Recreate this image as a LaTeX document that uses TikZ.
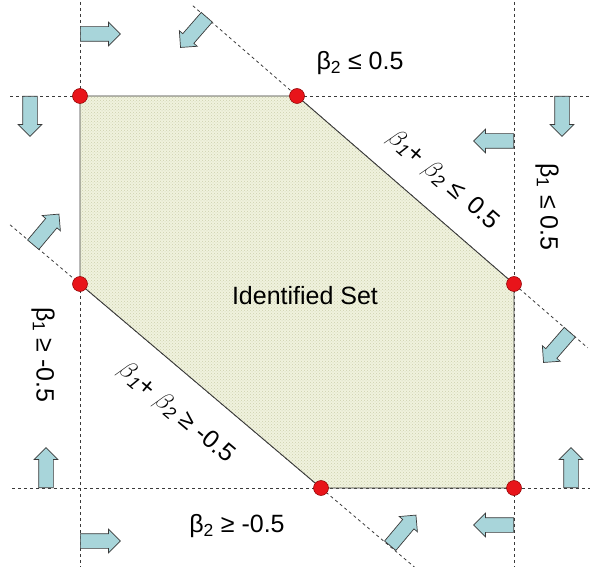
\documentclass[tikz,border=0pt]{standalone}
\usepackage{fontspec}
\setmainfont{Liberation Sans}
\usepackage{tikz}
\usetikzlibrary{shapes.arrows, patterns, calc}
\usepackage{xcolor}
\definecolor{setfill}{HTML}{F0F2DE}
\definecolor{setdots}{HTML}{CDD1AC}
\definecolor{arrowblue}{HTML}{A8D5DA}
\definecolor{edgegray}{HTML}{3A3A3A}
\definecolor{dotred}{HTML}{E8141A}

\begin{document}
\begin{tikzpicture}[x=1pt, y=-1pt,
    bound/.style={edgegray, dash pattern=on 3pt off 3pt, line width=0.8pt},
    setedge/.style={edgegray, line width=0.9pt},
    vertex/.style={circle, fill=dotred, draw=red!55!black, line width=0.5pt, minimum size=15pt, inner sep=0pt},
    pusharrow/.style={single arrow, draw=edgegray, fill=arrowblue, line width=0.7pt, minimum height=40pt, inner xsep=0pt, inner ysep=7pt, single arrow head extend=4.5pt, anchor=tail},
    lbl/.style={font=\fontsize{25}{30}\selectfont, inner sep=0pt}]
                \useasboundingbox (0,0) rectangle (590,567);
                % 1. Corners of the set
                \coordinate (p1) at (80,96);
                \coordinate (p2) at (297,96);
                \coordinate (p3) at (514,284);
                \coordinate (p4) at (514,488);
                \coordinate (p5) at (321,488);
                \coordinate (p6) at (80,284);

                % 2. Bounding lines
                \draw[bound] (80,2) -- (80,567);
                \draw[bound] (514,2) -- (514,567);
                \draw[bound] (10,96) -- (590,96);
                \draw[bound] (12,488) -- (590,488);
                \draw[bound] ($(p2)!-0.48!(p3)$) -- ($(p2)!1.34!(p3)$);
                \draw[bound] ($(p6)!-0.29!(p5)$) -- ($(p6)!1.4!(p5)$);

                % 3. Identified set
                \fill[setfill] (p1) -- (p2) -- (p3) -- (p4) -- (p5) -- (p6) -- cycle;
                \fill[pattern=crosshatch dots, pattern color=setdots] (p1) -- (p2) -- (p3) -- (p4) -- (p5) -- (p6) -- cycle;
                \draw[setedge] (p1) -- (p2) -- (p3) -- (p4) -- (p5) -- (p6) -- cycle;
                \foreach \i in {1,...,6}
                    \node[vertex] (v\i) at (p\i) {};
                \node[lbl] (idset) at (305,296) {Identified Set};

                % 4. Arrows pointing into the feasible side
                \node[pusharrow, rotate=0] (a1) at (80,34) {};
                \node[pusharrow, rotate=-90] (a2) at (30,96) {};
                \node[pusharrow, rotate=-131] (a3) at (207,17) {};
                \node[pusharrow, rotate=-90] (a4) at (562,96) {};
                \node[pusharrow, rotate=180] (a5) at (514,141) {};
                \node[pusharrow, rotate=50] (a6) at (33,245) {};
                \node[pusharrow, rotate=-131] (a7) at (570,332) {};
                \node[pusharrow, rotate=90] (a8) at (46,488) {};
                \node[pusharrow, rotate=0] (a9) at (80,541) {};
                \node[pusharrow, rotate=90] (a10) at (571,488) {};
                \node[pusharrow, rotate=180] (a11) at (514,525) {};
                \node[pusharrow, rotate=50] (a12) at (390,546) {};

                % 5. Constraint labels
                \node[lbl] (top) at (360,63) {β\textsubscript{2} ≤ 0.5};
                \node[lbl] (bottom) at (237,526) {β\textsubscript{2} ≥ -0.5};
                \node[lbl, rotate=-90] (right) at (547,207) {β\textsubscript{1} ≤ 0.5};
                \node[lbl, rotate=-90] (left) at (43,355) {β\textsubscript{1} ≥ -0.5};
                \node[lbl, rotate=-41] (upper) at (443,180) {$\beta$\textsubscript{\itshape 1}+ $\beta$\textsubscript{\itshape 2} ≤\, 0.5};
                \node[lbl, rotate=-40] (lower) at (176,413) {$\beta$\textsubscript{\itshape 1}+ $\beta$\textsubscript{\itshape 2} ≥ -0.5};
            \end{tikzpicture}
\end{document}
